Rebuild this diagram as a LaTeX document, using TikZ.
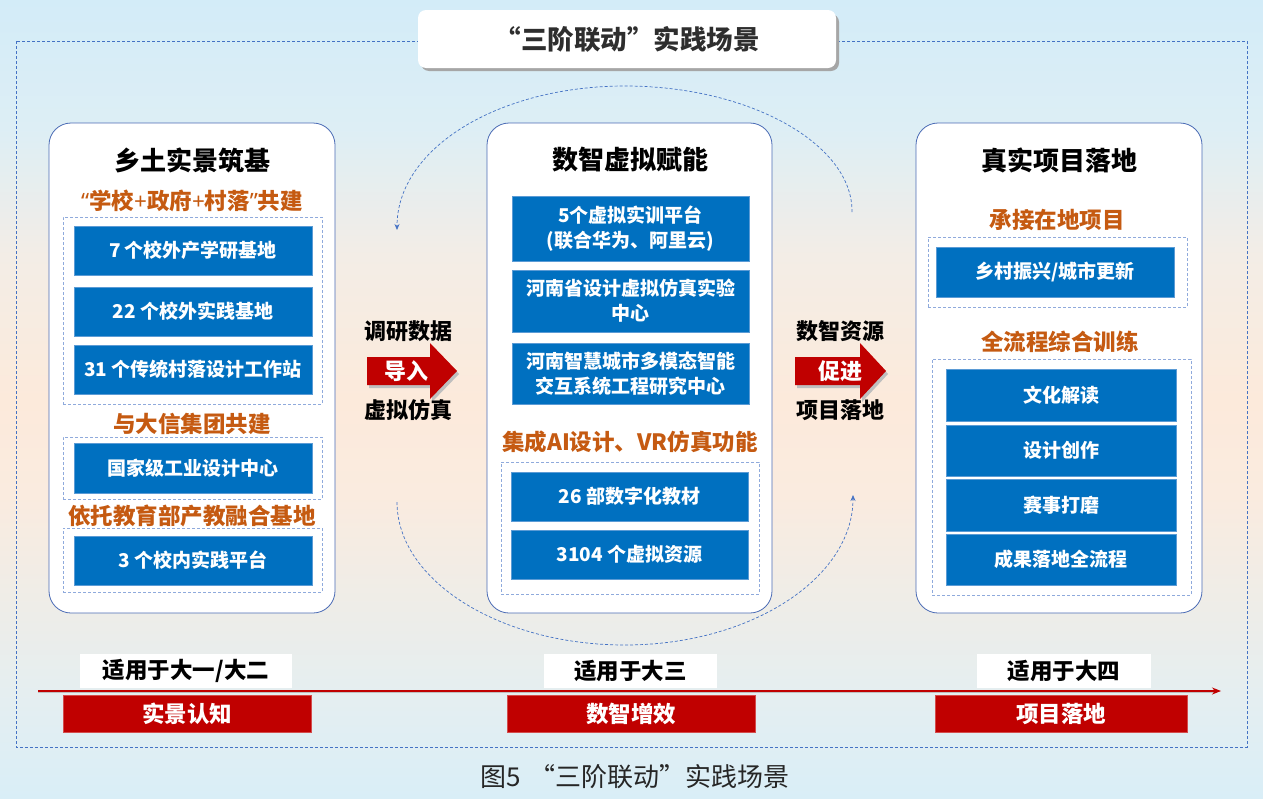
\documentclass[tikz,border=0pt]{standalone}
\usepackage{fontspec}
\setmainfont{Noto Sans CJK SC}
\newfontfamily\latq{Noto Sans}
\usetikzlibrary{arrows.meta}
\definecolor{boxblue}{HTML}{0070C0}
\definecolor{boxedge}{HTML}{5B9BD5}
\definecolor{redd}{HTML}{C00000}
\definecolor{orng}{HTML}{C55A11}
\definecolor{dashblue}{HTML}{4472C4}
\definecolor{innerdash}{HTML}{8FAADC}
\definecolor{panelline}{HTML}{4A6BB5}
\definecolor{captext}{HTML}{262626}
\definecolor{bgA}{HTML}{D9EEF7}
\definecolor{bgB}{HTML}{E4EEF1}
\definecolor{bgC}{HTML}{EEEDE8}
\definecolor{bgD}{HTML}{FAEBDF}
\definecolor{bgE}{HTML}{FCEADB}
\definecolor{bgF}{HTML}{F3EDE6}
\definecolor{bgG}{HTML}{DDEEF5}
\definecolor{bgH}{HTML}{D3ECF8}
\pgfdeclareverticalshading{bgshade}{100bp}{color(0bp)=(bgA); color(25bp)=(bgA); color(31bp)=(bgB); color(37bp)=(bgC); color(44bp)=(bgD); color(50bp)=(bgE); color(59bp)=(bgF); color(67bp)=(bgG); color(75bp)=(bgH); color(100bp)=(bgH)}
\tikzset{
  panel/.style={draw=panelline, line width=0.8pt, fill=white, rounded corners=22pt, minimum height=490, inner sep=0},
  dbox/.style={draw=innerdash, line width=0.8pt, dash pattern=on 3pt off 2pt, inner sep=0},
  bbox/.style={fill=boxblue, draw=boxedge, line width=0.5pt, text=white, font=\bfseries\fontsize{19}{25}\selectfont, align=center, inner sep=0},
  ptitle/.style={font=\bfseries\fontsize{26}{30}\selectfont, text=black},
  otitle/.style={font=\bfseries\fontsize{22.5}{26}\selectfont, text=orng},
  arrtext/.style={font=\bfseries\fontsize{22}{26}\selectfont, text=black},
  arrin/.style={font=\bfseries\fontsize{22}{26}\selectfont, text=white},
  wlabel/.style={fill=white, inner sep=0, minimum height=34, font=\bfseries\fontsize{22.5}{26}\selectfont, text=black},
  rlabel/.style={fill=redd, draw=redd!70!white, line width=0.5pt, inner sep=0, minimum height=37, font=\bfseries\fontsize{22.5}{26}\selectfont, text=white},
  loop/.style={dashblue, line width=0.7pt, dash pattern=on 3pt off 2pt, -{Stealth[length=6pt,width=5pt]}},
}
\begin{document}
\begin{tikzpicture}[x=1pt,y=-1pt]
\useasboundingbox (0,0) rectangle (1263,798);
\shade[shading=bgshade] (0,0) rectangle (1263,798);
% outer dashed frame
\draw[dashblue, line width=0.7pt, dash pattern=on 3pt off 2pt] (16,41) rectangle (1247,747);
% title
\fill[black!35, rounded corners=8pt] (421,14) rectangle (839,71);
\node[fill=white, rounded corners=8pt, minimum width=418, minimum height=58, inner sep=0,
  font=\bfseries\fontsize{26.5}{30}\selectfont, text=black!82] (title) at (627,39) {“三阶联动”实践场景};

% loop arcs
\coordinate (ua) at (852,212);
\coordinate (ub) at (397,230);
\coordinate (la) at (397,502);
\coordinate (lb) at (853,495);
\draw[loop] (ua) .. controls (853,145) and (751,86) .. (625,86) .. controls (499,86) and (397,148) .. (ub);
\draw[loop] (la) .. controls (397,580) and (499,645) .. (625,645) .. controls (751,645) and (853,578) .. (lb);

% panels
\node[panel, minimum width=286] (P1) at (192,368) {};
\node[panel, minimum width=285] (P2) at (629.5,368) {};
\node[panel, minimum width=286] (P3) at (1059,368) {};

% left panel
\node[ptitle] (t1) at (192,160) {乡土实景筑基};
\node[otitle] (o11) at (192,201) {{\latq “}学校{\latq +}政府{\latq +}村落{\latq ”}共建};
\node[dbox, minimum width=259, minimum height=187] (d11) at (192.5,310.5) {};
\node[bbox, minimum width=238, minimum height=49] (b11) at (193,250.5) {7 个校外产学研基地};
\node[bbox, minimum width=238, minimum height=49] (b12) at (193,311.5) {22 个校外实践基地};
\node[bbox, minimum width=238, minimum height=49] (b13) at (193,369.5) {31 个传统村落设计工作站};
\node[otitle] (o12) at (192,424) {与大信集团共建};
\node[dbox, minimum width=259, minimum height=62] (d12) at (192.5,468) {};
\node[bbox, minimum width=238, minimum height=50] (b14) at (193,468) {国家级工业设计中心};
\node[otitle] (o13) at (192,516) {依托教育部产教融合基地};
\node[dbox, minimum width=259, minimum height=64] (d13) at (192.5,560) {};
\node[bbox, minimum width=238, minimum height=49] (b15) at (193,560.5) {3 个校内实践平台};

% middle panel
\node[ptitle] (t2) at (630,160) {数智虚拟赋能};
\node[bbox, minimum width=237, minimum height=65] (b21) at (630.5,228.5) {5个虚拟实训平台\\(联合华为、阿里云)};
\node[bbox, minimum width=237, minimum height=62] (b22) at (630.5,301) {河南省设计虚拟仿真实验\\中心};
\node[bbox, minimum width=237, minimum height=61] (b23) at (630.5,373.5) {河南智慧城市多模态智能\\交互系统工程研究中心};
\node[otitle] (o21) at (630,442) {集成AI设计、VR仿真功能};
\node[dbox, minimum width=258, minimum height=132] (d21) at (630,528) {};
\node[bbox, minimum width=237, minimum height=49] (b24) at (629.5,496.5) {26 部数字化教材};
\node[bbox, minimum width=237, minimum height=49] (b25) at (629.5,554.5) {3104 个虚拟资源};

% right panel
\node[ptitle] (t3) at (1059,160) {真实项目落地};
\node[otitle] (o31) at (1057,220) {承接在地项目};
\node[dbox, minimum width=259, minimum height=70] (d31) at (1057.5,272) {};
\node[bbox, minimum width=238, minimum height=50] (b31) at (1055,272) {乡村振兴/城市更新};
\node[otitle] (o32) at (1060,342) {全流程综合训练};
\node[dbox, minimum width=259, minimum height=236] (d32) at (1061.5,477) {};
\node[bbox, minimum width=230, minimum height=52] (b32) at (1061,395) {文化解读};
\node[bbox, minimum width=230, minimum height=51] (b33) at (1061,450.5) {设计创作};
\node[bbox, minimum width=230, minimum height=52] (b34) at (1061,505) {赛事打磨};
\node[bbox, minimum width=230, minimum height=51] (b35) at (1061,559.5) {成果落地全流程};

% block arrows between panels
\fill[black!25] (369,360) -- (432,360) -- (432,346) -- (459,374) -- (432,402) -- (432,388) -- (369,388) -- cycle;
\fill[redd] (367,357) -- (430,357) -- (430,343) -- (457,371) -- (430,399) -- (430,385) -- (367,385) -- cycle;
\node[arrtext] (a1t) at (408,331) {调研数据};
\node[arrin] (a1) at (406,371) {导入};
\node[arrtext] (a1b) at (408,410) {虚拟仿真};

\fill[black!25] (797,360) -- (862,360) -- (862,346) -- (888,374) -- (862,402) -- (862,388) -- (797,388) -- cycle;
\fill[redd] (795,357) -- (860,357) -- (860,343) -- (886,371) -- (860,399) -- (860,385) -- (795,385) -- cycle;
\node[arrtext] (a2t) at (840,331) {数智资源};
\node[arrin] (a2) at (840,371) {促进};
\node[arrtext] (a2b) at (840,410) {项目落地};

% timeline
\node[wlabel, minimum width=212] (w1) at (186,671) {适用于大一/大二};
\node[wlabel, minimum width=173] (w2) at (630.5,671) {适用于大三};
\node[wlabel, minimum width=174] (w3) at (1064,671) {适用于大四};
\coordinate (tl0) at (38,691);
\coordinate (tl1) at (1221,691);
\draw[black!25, line width=1.6pt] ([yshift=-1.5pt]tl0) -- ([yshift=-1.5pt,xshift=-6pt]tl1);
\draw[redd, line width=1.3pt, -{Stealth[length=9pt,width=7pt]}] (tl0) -- (tl1);
\node[rlabel, minimum width=248] (r1) at (187,713.5) {实景认知};
\node[rlabel, minimum width=248] (r2) at (631,713.5) {数智增效};
\node[rlabel, minimum width=252] (r3) at (1061,713.5) {项目落地};

% caption
\node[font=\fontsize{26}{30}\selectfont, text=captext] (cap) at (635,777) {图5\hspace{9pt}“三阶联动”实践场景};
\end{tikzpicture}
\end{document}
